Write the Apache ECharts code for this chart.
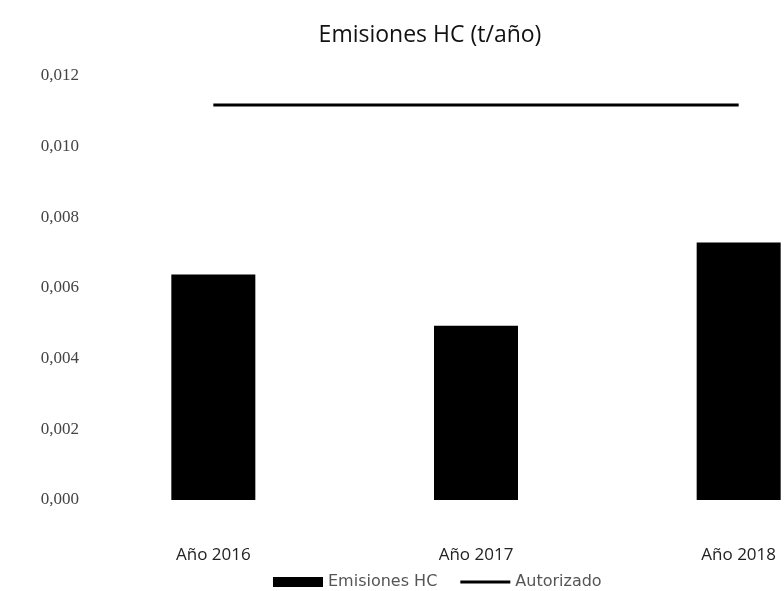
<!DOCTYPE html>
<html>
<head>
<meta charset="utf-8">
<script src="https://cdn.jsdelivr.net/npm/echarts@6/dist/echarts.min.js"></script>
<style>html,body{margin:0;padding:0;background:#fff;overflow:hidden;width:784px;height:591px;}#c{width:870px;height:591px;}</style>
</head>
<body>
<div id="c"></div>
<script>
const categories = ['Año 2016', 'Año 2017', 'Año 2018'];
const emisiones = [0.00638, 0.00493, 0.00729];
const autorizado = [0.01118, 0.01118, 0.01118];
const yMin = 0, yMax = 0.012, yStep = 0.002;

const chart = echarts.init(document.getElementById('c'));
chart.setOption({
  animation: false,
  backgroundColor: '#fff',
  title: {
    text: 'Emisiones HC (t/año)',
    left: 425, top: 19, textAlign: 'center',
    textStyle: { fontFamily: 'Open Sans', fontSize: 23, fontWeight: 'normal', color: '#111' }
  },
  legend: {
    top: 569, left: 268,
    itemGap: 23, itemWidth: 50, itemHeight: 10,
    textStyle: { fontFamily: 'DejaVu Sans', fontSize: 16, color: '#555' },
    data: [
      { name: 'Emisiones HC', icon: 'rect' },
      { name: 'Autorizado', icon: 'path://M0,0H50V3H0Z' }
    ]
  },
  grid: { left: 82, right: 0, top: 76, bottom: 91, containLabel: false },
  xAxis: {
    type: 'category', data: categories,
    axisLine: { show: false }, axisTick: { show: false },
    axisLabel: { fontFamily: 'Open Sans', fontSize: 17, color: '#222', margin: 47 }
  },
  yAxis: {
    type: 'value', min: yMin, max: yMax, interval: yStep,
    splitLine: { show: false }, axisLine: { show: false }, axisTick: { show: false },
    axisLabel: {
      fontFamily: 'Liberation Serif', fontSize: 17, color: '#444', margin: 3,
      formatter: v => v.toFixed(3).replace('.', ',')
    }
  },
  series: [
    { name: 'Emisiones HC', type: 'bar', data: emisiones, barWidth: 84,
      itemStyle: { color: '#000' } },
    { name: 'Autorizado', type: 'line', data: autorizado, symbol: 'none',
      lineStyle: { color: '#000', width: 3 }, itemStyle: { color: '#000' } }
  ]
});
</script>
</body>
</html>
